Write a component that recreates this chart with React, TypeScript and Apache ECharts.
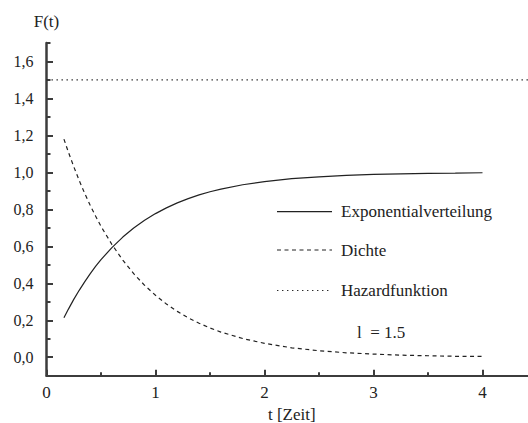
import React, { useEffect, useRef } from "react";
import * as echarts from "echarts";

// Exponential distribution, lambda = 1.5
const tValues = [0.16, 0.2, 0.25, 0.3, 0.35, 0.4, 0.45, 0.5, 0.6, 0.7, 0.8, 0.9, 1.0, 1.1, 1.2, 1.3, 1.4, 1.5, 1.6, 1.8, 2.0, 2.25, 2.5, 2.75, 3.0, 3.25, 3.5, 3.75, 4.0];
const cdfValues = [0.213, 0.259, 0.313, 0.362, 0.408, 0.451, 0.491, 0.528, 0.593, 0.650, 0.699, 0.741, 0.777, 0.808, 0.835, 0.858, 0.878, 0.895, 0.909, 0.933, 0.950, 0.966, 0.976, 0.984, 0.989, 0.992, 0.995, 0.996, 0.998];
const densityValues = [1.180, 1.111, 1.031, 0.956, 0.887, 0.823, 0.764, 0.708, 0.610, 0.525, 0.452, 0.389, 0.335, 0.288, 0.248, 0.213, 0.184, 0.158, 0.136, 0.101, 0.075, 0.051, 0.035, 0.024, 0.017, 0.011, 0.008, 0.005, 0.004];
const hazardT = [0, 4.5];
const hazardValues = [1.5, 1.5];

const yLabelValues = [0, 0.2, 0.4, 0.6, 0.8, 1.0, 1.2, 1.4, 1.6];
const seriesNames = ["Exponentialverteilung", "Dichte", "Hazardfunktion"];

const FONT = "Liberation Serif";
const INK = "#222";
const AXIS = "#3c3c3c";
const DOT_COLOR = "#2a2a2a";
const DOT_DASH = [1.4, 3.6];

const solidStyle = { stroke: INK, lineWidth: 1.2 };
const dashedStyle = { stroke: INK, lineWidth: 1.2, lineDash: [4, 3.5] };
const dottedStyle = { stroke: DOT_COLOR, lineWidth: 1.2, lineDash: DOT_DASH };

// Legend rows: sample line + caption
const legendRows = [
  { name: seriesNames[0], y: 211.7, style: solidStyle },
  { name: seriesNames[1], y: 250, style: dashedStyle },
  { name: seriesNames[2], y: 290.5, style: dottedStyle },
];

export default function App() {
  const ref = useRef<HTMLDivElement>(null);

  useEffect(() => {
    if (!ref.current) return;
    const chart = echarts.init(ref.current, null, { renderer: "svg" });

    const pair = (xs: number[], ys: number[]) => xs.map((x, i) => [x, ys[i]]);

    const legendGraphics = legendRows.flatMap((row) => [
      {
        type: "line",
        shape: { x1: 277, y1: row.y, x2: 332, y2: row.y },
        style: row.style,
      },
      {
        type: "text",
        x: 341,
        y: row.y,
        style: {
          text: row.name,
          fontFamily: FONT,
          fontSize: 17,
          fill: INK,
          verticalAlign: "middle",
        },
      },
    ]);

    chart.setOption({
      animation: false,
      backgroundColor: "#fff",
      textStyle: { fontFamily: FONT, color: INK },
      grid: {
        left: 46.5,
        right: -9,
        top: 43,
        bottom: 47.3,
        containLabel: false,
        outerBoundsMode: "none",
      },
      xAxis: {
        type: "value",
        min: 0,
        max: 4.5,
        interval: 1,
        name: "t [Zeit]",
        nameLocation: "middle",
        nameGap: 28,
        nameTextStyle: { fontFamily: FONT, fontSize: 17, color: INK },
        axisLine: { show: true, onZero: false, lineStyle: { color: AXIS, width: 2 } },
        axisTick: { show: true, inside: true, length: 6, lineStyle: { color: AXIS, width: 2 } },
        minorTick: { show: true, splitNumber: 2, length: 3.5, lineStyle: { color: AXIS, width: 2 } },
        axisLabel: {
          fontFamily: FONT,
          fontSize: 17,
          color: INK,
          margin: 8,
          showMaxLabel: false,
          formatter: (v: number) => String(v),
        },
        splitLine: { show: false },
      },
      yAxis: [
        {
          type: "value",
          min: -0.1,
          max: 1.7,
          interval: 0.1,
          name: "F(t)",
          nameLocation: "end",
          nameGap: 13,
          nameTextStyle: { fontFamily: FONT, fontSize: 17, color: INK, align: "center" },
          axisLine: { show: true, onZero: false, lineStyle: { color: AXIS, width: 2.5 } },
          axisTick: { show: true, inside: true, length: 4, lineStyle: { color: AXIS, width: 2 } },
          axisLabel: {
            fontFamily: FONT,
            fontSize: 16,
            color: INK,
            margin: 13,
            customValues: yLabelValues,
            formatter: (v: number) => v.toFixed(1).replace(".", ","),
          },
          splitLine: { show: false },
        },
        {
          type: "value",
          min: -0.1,
          max: 1.7,
          position: "left",
          axisLine: { show: false },
          axisTick: {
            show: true,
            inside: true,
            length: 6.5,
            customValues: yLabelValues,
            lineStyle: { color: AXIS, width: 2 },
          },
          axisLabel: { show: false },
          splitLine: { show: false },
        },
      ],
      series: [
        {
          name: seriesNames[0],
          type: "line",
          data: pair(tValues, cdfValues),
          smooth: false,
          symbol: "none",
          lineStyle: { color: INK, width: 1.2, type: "solid" },
        },
        {
          name: seriesNames[1],
          type: "line",
          data: pair(tValues, densityValues),
          smooth: false,
          symbol: "none",
          lineStyle: { color: INK, width: 1.2, type: [4, 3.5] },
        },
        {
          name: seriesNames[2],
          type: "line",
          data: pair(hazardT, hazardValues),
          symbol: "none",
          lineStyle: { color: DOT_COLOR, width: 1.2, type: DOT_DASH },
        },
      ],
      graphic: [
        ...legendGraphics,
        {
          type: "text",
          x: 357,
          y: 332,
          style: {
            text: "l  = 1.5",
            fontFamily: FONT,
            fontSize: 17,
            fill: INK,
            verticalAlign: "middle",
          },
        },
      ],
    });

    return () => chart.dispose();
  }, []);

  return (
    <div
      ref={ref}
      style={{ position: "fixed", left: 0, top: 0, width: 528, height: 423, background: "#fff" }}
    />
  );
}
